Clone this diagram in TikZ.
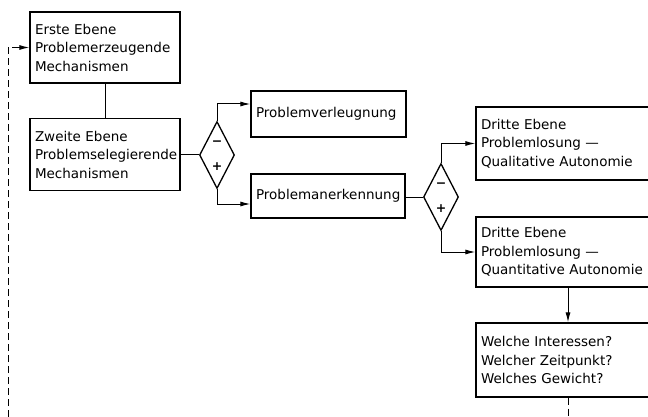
\documentclass[tikz,border=0pt]{standalone}
\usepackage{fontspec}
\setmainfont{DejaVu Sans}
\usetikzlibrary{shapes.geometric}
\usetikzlibrary{arrows.meta}

\begin{document}
\begin{tikzpicture}[x=1pt,y=-1pt,
    kasten/.style={draw,line width=1.3pt,align=left,inner xsep=5pt,inner ysep=0pt,
      font=\fontsize{13.5}{18.5}\selectfont},
    raute/.style={draw,diamond,line width=1.3pt,minimum width=35pt,minimum height=67pt,inner sep=0pt},
    zeichen/.style={inner sep=0pt,font=\bfseries\fontsize{12.5}{12.5}\selectfont},
    linie/.style={line width=1pt},
    pfeil/.style={linie,-{Latex[length=10pt,width=5pt]}},
    rueck/.style={linie,dash pattern=on 7pt off 4pt},
    rueckpfeil/.style={pfeil,dash pattern=on 7pt off 4pt}]
      \clip (0,0) rectangle (648,417);
      \node[kasten,text width=140pt,minimum height=71pt] (erste) at (105,47.5) {Erste Ebene\\Problemerzeugende\\Mechanismen};
      \node[kasten,text width=140pt,minimum height=72pt] (zweite) at (105,154.5) {Zweite Ebene\\Problemselegierende\\Mechanismen};
      \node[raute] (rauteA) at (217,155) {};
      \node[zeichen] (minusA) at ([yshift=12pt]rauteA.center) {−};
      \node[zeichen] (plusA) at ([yshift=-12pt]rauteA.center) {+};
      \node[kasten,text width=145pt,minimum height=46pt] (verleugnung) at (328.5,114) {Problemverleugnung};
      \node[kasten,text width=144pt,minimum height=44pt] (anerkennung) at (328,196) {Problemanerkennung};
      \node[raute] (rauteB) at (441,197) {};
      \node[zeichen] (minusB) at ([yshift=12pt]rauteB.center) {−};
      \node[zeichen] (plusB) at ([yshift=-12pt]rauteB.center) {+};
      \node[kasten,text width=174pt,minimum height=73pt] (qualitativ) at (568,143.5) {Dritte Ebene\\Problemlosung ---\\Qualitative Autonomie};
      \node[kasten,text width=174pt,minimum height=70pt] (quantitativ) at (568,252) {Dritte Ebene\\Problemlosung ---\\Quantitative Autonomie};
      \node[kasten,text width=174pt,minimum height=74pt] (welche) at (568,360) {Welche Interessen?\\Welcher Zeitpunkt?\\Welches Gewicht?};
      \coordinate (linksunten) at (8,417);
      \coordinate (rechtsunten) at (568,417);
      \draw[linie] (erste) -- (zweite);
      \draw[linie] (zweite.east |- rauteA.west) -- (rauteA.west);
      \draw[pfeil] (rauteA.north) |- ([yshift=10pt]verleugnung.west);
      \draw[pfeil] (rauteA.south) |- ([yshift=-8pt]anerkennung.west);
      \draw[linie] (anerkennung.east |- rauteB.west) -- (rauteB.west);
      \draw[pfeil] (rauteB.north) |- (qualitativ.west);
      \draw[pfeil] (rauteB.south) |- (quantitativ.west);
      \draw[pfeil] (quantitativ) -- (welche);
      \draw[rueck] (welche) -- (rechtsunten);
      \draw[rueckpfeil] (linksunten) |- (erste.west);
    \end{tikzpicture}
\end{document}
